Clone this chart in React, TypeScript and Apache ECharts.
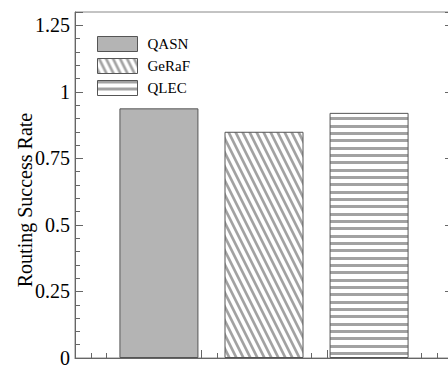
import React, { useEffect, useRef } from "react";
import * as echarts from "echarts";

const categories = [""];
const seriesNames = ["QASN", "GeRaF", "QLEC"];
const qasnValues = [0.938];
const gerafValues = [0.85];
const qlecValues = [0.921];
const yTickMax = 1.3;
const xTickMax = 6;

const FONT = "Liberation Serif";

function makeHStripe(): HTMLCanvasElement {
  const c = document.createElement("canvas");
  c.width = 4;
  c.height = 22;
  const ctx = c.getContext("2d")!;
  ctx.fillStyle = "#ffffff";
  ctx.fillRect(0, 0, 4, 22);
  ctx.fillStyle = "#a2a2a2";
  ctx.fillRect(0, 0, 4, 3);
  ctx.fillRect(0, 7, 4, 3);
  ctx.fillRect(0, 15, 4, 3);
  return c;
}

function makeDStripe(): HTMLCanvasElement {
  const w = 7;
  const h = 14;
  const c = document.createElement("canvas");
  c.width = w;
  c.height = h;
  const ctx = c.getContext("2d")!;
  ctx.fillStyle = "#ffffff";
  ctx.fillRect(0, 0, w, h);
  ctx.fillStyle = "#a2a2a2";
  for (let k = -2; k <= 2; k++) {
    const x0 = k * w;
    ctx.beginPath();
    ctx.moveTo(x0, 0);
    ctx.lineTo(x0 + 3, 0);
    ctx.lineTo(x0 + 3 + w, h);
    ctx.lineTo(x0 + w, h);
    ctx.closePath();
    ctx.fill();
  }
  return c;
}

export default function App() {
  const ref = useRef<HTMLDivElement>(null);
  useEffect(() => {
    if (!ref.current) return;
    const chart = echarts.init(ref.current, null, { renderer: "svg" });
    const hPattern = { image: makeHStripe(), repeat: "repeat" };
    const dPattern = { image: makeDStripe(), repeat: "repeat" };
    const axisColor = "#666";
    const barBorder = { borderColor: "#555", borderWidth: 1 };
    const yCommon = {
      type: "value",
      min: 0,
      max: yTickMax,
      interval: 0.25,
      splitLine: { show: false },
      axisLine: { show: true, lineStyle: { color: axisColor, width: 1 } },
      axisTick: { show: true, inside: true, length: 8, lineStyle: { color: axisColor } },
      minorTick: { show: true, splitNumber: 5, length: 5, lineStyle: { color: axisColor } },
    };
    chart.setOption({
      animation: false,
      backgroundColor: "#ffffff",
      textStyle: { fontFamily: FONT },
      grid: {
        left: 75,
        right: 7,
        top: 12,
        bottom: 7,
        show: true,
        borderColor: "#888",
        borderWidth: 1,
        backgroundColor: "transparent",
      },
      legend: {
        data: seriesNames,
        orient: "vertical",
        left: 97,
        top: 36,
        padding: 0,
        itemWidth: 40,
        itemHeight: 15,
        itemGap: 6,
        icon: "rect",
        itemStyle: { borderColor: "#555", borderWidth: 1 },
        textStyle: { fontFamily: FONT, fontSize: 15, color: "#000", padding: [0, 0, 0, 5] },
      },
      graphic: [
        {
          type: "text",
          x: 25,
          y: 200,
          rotation: Math.PI / 2,
          style: {
            text: "Routing Success Rate",
            fontFamily: FONT,
            fontSize: 20,
            fill: "#000",
            textAlign: "center",
            textVerticalAlign: "middle",
          },
        },
      ],
      xAxis: [
        {
          type: "category",
          data: categories,
          position: "bottom",
          show: false,
        },
        {
          type: "value",
          min: 0,
          max: xTickMax,
          interval: 1,
          position: "bottom",
          splitLine: { show: false },
          axisLabel: { show: false },
          axisLine: { show: true, onZero: false, lineStyle: { color: axisColor, width: 1 } },
          axisTick: { show: true, inside: true, length: 8, lineStyle: { color: axisColor } },
          minorTick: { show: true, splitNumber: 4, length: 5, lineStyle: { color: axisColor } },
        },
      ],
      yAxis: [
        {
          ...yCommon,
          position: "left",
          axisLabel: {
            show: true,
            showMaxLabel: false,
            margin: 5,
            fontFamily: FONT,
            fontSize: 20,
            color: "#000",
          },
        },
        {
          ...yCommon,
          position: "right",
          axisLabel: { show: false },
          minorTick: { show: false },
        },
      ],
      series: [
        {
          name: seriesNames[0],
          type: "bar",
          xAxisIndex: 0,
          yAxisIndex: 0,
          data: qasnValues,
          barWidth: 79,
          barGap: "33%",
          itemStyle: { color: "#b4b4b4", ...barBorder },
        },
        {
          name: seriesNames[1],
          type: "bar",
          xAxisIndex: 0,
          yAxisIndex: 0,
          data: gerafValues,
          barWidth: 79,
          barGap: "33%",
          itemStyle: { color: dPattern, ...barBorder },
        },
        {
          name: seriesNames[2],
          type: "bar",
          xAxisIndex: 0,
          yAxisIndex: 0,
          data: qlecValues,
          barWidth: 79,
          barGap: "33%",
          itemStyle: { color: hPattern, ...barBorder },
        },
      ],
    });
    return () => chart.dispose();
  }, []);
  return (
    <div
      style={{
        position: "fixed",
        left: 0,
        top: 0,
        width: 448,
        height: 368,
        overflow: "hidden",
        background: "#fff",
      }}
    >
      <div ref={ref} style={{ width: 460, height: 368 }} />
    </div>
  );
}
